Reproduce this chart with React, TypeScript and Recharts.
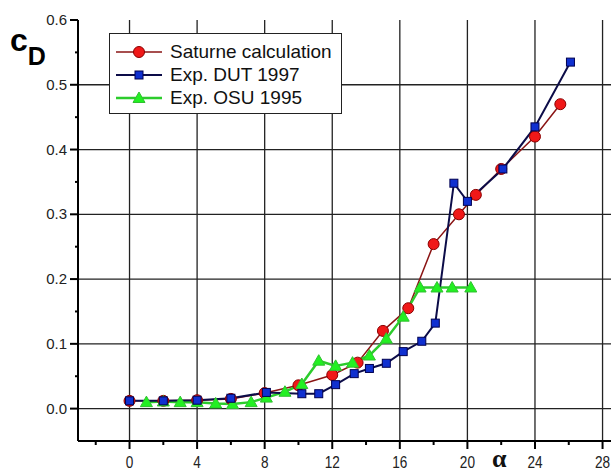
import { LineChart, Line, XAxis, YAxis, ReferenceLine } from "recharts";

// Saturne calculation
const saturneAlpha = [0, 2, 4, 6, 8, 10, 12, 13.5, 15, 16.5, 18, 19.5, 20.5, 22, 24, 25.5];
const saturneCd = [0.012, 0.012, 0.013, 0.015, 0.024, 0.036, 0.052, 0.071, 0.12, 0.155, 0.254, 0.3, 0.33, 0.37, 0.42, 0.47];

// Exp. DUT 1997
const dutAlpha = [0, 2, 4, 6, 8.1, 10.2, 11.2, 12.2, 13.3, 14.2, 15.2, 16.2, 17.3, 18.1, 19.2, 20, 22.1, 24, 26.1];
const dutCd = [0.012, 0.012, 0.013, 0.016, 0.025, 0.023, 0.023, 0.037, 0.054, 0.062, 0.07, 0.088, 0.104, 0.132, 0.348, 0.32, 0.37, 0.435, 0.535];

// Exp. OSU 1995
const osuAlpha = [1, 2, 3, 4, 5.1, 6.1, 7.2, 8.1, 9.2, 10.2, 11.2, 12.2, 13.2, 14.2, 15.2, 16.2, 17.2, 18.2, 19.1, 20.2];
const osuCd = [0.01, 0.011, 0.01, 0.01, 0.008, 0.007, 0.01, 0.017, 0.026, 0.038, 0.074, 0.066, 0.071, 0.082, 0.108, 0.142, 0.187, 0.187, 0.187, 0.187];

const xTicks = [-2, 0, 2, 4, 6, 8, 10, 12, 14, 16, 18, 20, 22, 24, 26, 28];
const yTicks = [0, 0.05, 0.1, 0.15, 0.2, 0.25, 0.3, 0.35, 0.4, 0.45, 0.5, 0.55, 0.6];
const gridX = [0, 4, 8, 12, 16, 20, 24, 28];
const gridY = [0, 0.1, 0.2, 0.3, 0.4, 0.5];

const legendItems = ["Saturne calculation", "Exp. DUT 1997", "Exp. OSU 1995"];

const saturneData = saturneAlpha.map((a, i) => ({ alpha: a, cd: saturneCd[i] }));
const dutData = dutAlpha.map((a, i) => ({ alpha: a, cd: dutCd[i] }));
const osuData = osuAlpha.map((a, i) => ({ alpha: a, cd: osuCd[i] }));

const SANS = "'Liberation Sans', Arial, sans-serif";

const RED_LINE = "#8a1414";
const BLUE_LINE = "#0c0c48";
const GREEN_LINE = "#2ccc2c";

function RedDot(p: any) {
  return <circle key={`r${p.index}`} cx={p.cx} cy={p.cy} r={5.5} fill="#f01818" stroke="#8a0000" strokeWidth={1} />;
}

function BlueDot(p: any) {
  return <rect key={`b${p.index}`} x={p.cx - 4} y={p.cy - 4} width={8} height={8} fill="#1030d0" stroke="#000050" strokeWidth={1} />;
}

function GreenDot(p: any) {
  const { cx, cy } = p;
  return (
    <polygon
      key={`g${p.index}`}
      points={`${cx},${cy - 6} ${cx + 6},${cy + 4.5} ${cx - 6},${cy + 4.5}`}
      fill="#22f022"
      stroke="#30c030"
      strokeWidth={1}
    />
  );
}

// x labels in the original are narrow, so squeeze them a bit
function XTick({ x, y, payload }: any) {
  const v = payload.value;
  const major = v >= 0 && v % 4 === 0;
  return (
    <g>
      <line x1={x} x2={x} y1={y} y2={y + (major ? 8 : 4)} stroke="#000" strokeWidth={2} />
      {major && (
        <text
          transform={`translate(${x},${y + 27}) scale(0.85,1)`}
          textAnchor="middle"
          fontSize={16}
          fontFamily={SANS}
          fill="#222"
        >
          {v}
        </text>
      )}
    </g>
  );
}

function YTick({ x, y, payload }: any) {
  const v = payload.value;
  const major = Math.round(v * 100) % 10 === 0;
  return (
    <g>
      <line x1={x - (major ? 8 : 3)} x2={x} y1={y} y2={y} stroke="#000" strokeWidth={2} />
      {major && (
        <text x={x - 11} y={y + 5} textAnchor="end" fontSize={15} fontFamily={SANS} fill="#222">
          {v.toFixed(1)}
        </text>
      )}
    </g>
  );
}

function LegendMarker({ i }: { i: number }) {
  const colors = [RED_LINE, BLUE_LINE, GREEN_LINE];
  const widths = [1.5, 2, 2.5];
  return (
    <svg width={48} height={16} style={{ display: "block" }}>
      <line x1={0} x2={46} y1={8} y2={8} stroke={colors[i]} strokeWidth={widths[i]} />
      {i === 0 && <RedDot cx={23} cy={8} index={0} />}
      {i === 1 && <BlueDot cx={23} cy={8} index={0} />}
      {i === 2 && <GreenDot cx={23} cy={8} index={0} />}
    </svg>
  );
}

export default function App() {
  return (
    <div style={{ position: "absolute", left: 0, top: 0, width: 613, height: 474, background: "#fff", overflow: "hidden" }}>
      <LineChart width={613} height={474} margin={{ top: 20, right: 2, bottom: 0, left: 0 }}>
        <XAxis
          type="number"
          dataKey="alpha"
          domain={[-3.05, 28.5]}
          ticks={xTicks}
          interval={0}
          tickSize={0}
          tickMargin={0}
          tick={<XTick />}
          height={33}
          axisLine={{ stroke: "#000", strokeWidth: 2 }}
          allowDataOverflow
        />
        <YAxis
          type="number"
          domain={[-0.05, 0.6]}
          ticks={yTicks}
          interval={0}
          tickSize={0}
          tickMargin={0}
          tick={<YTick />}
          width={78}
          axisLine={{ stroke: "#000", strokeWidth: 2 }}
          allowDataOverflow
        />
        {gridX.map((v) => (
          <ReferenceLine key={`gx${v}`} x={v} stroke="#222" strokeWidth={1.3} />
        ))}
        {gridY.map((v) => (
          <ReferenceLine key={`gy${v}`} y={v} stroke="#222" strokeWidth={1.3} />
        ))}
        <Line
          data={saturneData}
          dataKey="cd"
          type="linear"
          stroke={RED_LINE}
          strokeWidth={1.5}
          dot={RedDot}
          activeDot={false}
          isAnimationActive={false}
        />
        <Line
          data={osuData}
          dataKey="cd"
          type="linear"
          stroke={GREEN_LINE}
          strokeWidth={2.5}
          dot={GreenDot}
          activeDot={false}
          isAnimationActive={false}
        />
        <Line
          data={dutData}
          dataKey="cd"
          type="linear"
          stroke={BLUE_LINE}
          strokeWidth={2}
          dot={BlueDot}
          activeDot={false}
          isAnimationActive={false}
        />
      </LineChart>

      <div
        style={{
          position: "absolute",
          left: 109,
          top: 33,
          width: 233,
          height: 81,
          border: "1px solid #222",
          background: "#fff",
          boxSizing: "border-box",
          paddingTop: 6,
        }}
      >
        {legendItems.map((label, i) => (
          <div key={label} style={{ display: "flex", alignItems: "center", height: 23, paddingLeft: 6 }}>
            <LegendMarker i={i} />
            <span style={{ marginLeft: 6, fontFamily: SANS, fontSize: 19, color: "#111", lineHeight: "23px" }}>
              {label}
            </span>
          </div>
        ))}
      </div>

      <div style={{ position: "absolute", left: 10, top: 22, fontFamily: SANS, fontWeight: "bold", color: "#000", whiteSpace: "nowrap" }}>
        <span style={{ fontSize: 32 }}>c</span>
        <span style={{ fontSize: 25, position: "relative", top: 14 }}>D</span>
      </div>

      <div
        style={{
          position: "absolute",
          left: 492,
          top: 446,
          height: 26,
          fontFamily: "'Liberation Serif', 'DejaVu Serif', serif",
          fontWeight: "bold",
          fontSize: 26,
          lineHeight: "26px",
          color: "#111",
        }}
      >
        α
      </div>
    </div>
  );
}
